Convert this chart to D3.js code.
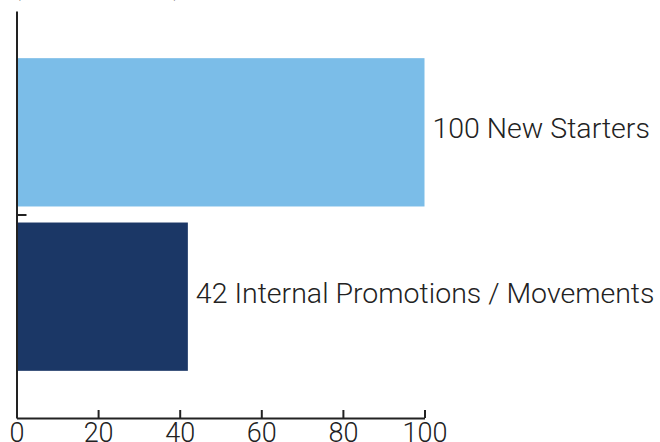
<!DOCTYPE html>
<html>
<head>
<meta charset="utf-8">
<script src="https://cdn.jsdelivr.net/npm/d3@7"></script>
<style>
  html, body { margin: 0; padding: 0; background: #fff; }
  svg { display: block; }
  text { font-family: Roboto, "Liberation Sans", sans-serif; }
</style>
</head>
<body>
<svg id="chart" width="660" height="442"></svg>
<script>
// Data
const categories = ["New Starters", "Internal Promotions / Movements"];
const values = [100, 42];
const barColors = ["#7bbde8", "#1b3766"];
const xTicks = [0, 20, 40, 60, 80, 100];
const title = "(in numbers)";

const svg = d3.select("#chart");
const margin = { left: 16.5, right: 235.5, top: 11, bottom: 24 };
const W = 660, H = 442;

const x = d3.scaleLinear().domain([0, 100]).range([margin.left, W - margin.right]);
const y = d3.scaleBand()
  .domain(categories)
  .range([margin.top, H - margin.bottom])
  .paddingInner(0.0976)
  .paddingOuter(0.287);

// Title (sits above the plotting area)
svg.append("text")
  .attr("x", 11)
  .attr("y", -6)
  .attr("font-size", 30)
  .attr("font-weight", 700)
  .attr("fill", "#222")
  .text(title);

// Bars
svg.append("g").selectAll("rect")
  .data(categories)
  .join("rect")
  .attr("x", x(0))
  .attr("y", d => y(d))
  .attr("width", (d, i) => x(values[i]) - x(0))
  .attr("height", y.bandwidth())
  .attr("fill", (d, i) => barColors[i]);

// Value + category labels
svg.append("g").selectAll("text")
  .data(categories)
  .join("text")
  .attr("x", (d, i) => x(values[i]) + 8)
  .attr("y", d => y(d) + y.bandwidth() / 2)
  .attr("dy", 6)
  .attr("font-size", 28.5)
  .attr("font-weight", 300)
  .attr("fill", "#222")
  .text((d, i) => `${values[i]} ${d}`);

// Y axis: boundary tick between the two categories
const yLin = d3.scaleLinear().domain([0, categories.length]).range([H - margin.bottom, margin.top]);
const yAxis = svg.append("g")
  .attr("transform", `translate(${x(0)},0)`)
  .call(d3.axisLeft(yLin).tickValues([1]).tickSize(-10).tickSizeOuter(0).tickFormat(""));
yAxis.selectAll("path, line").attr("stroke", "#222").attr("stroke-width", 2);

// X axis with inward ticks
const xAxis = svg.append("g")
  .attr("transform", `translate(0,${H - margin.bottom})`)
  .call(d3.axisBottom(x).tickValues(xTicks).tickSize(-8).tickSizeOuter(0).tickPadding(5));
xAxis.selectAll("path, line").attr("stroke", "#222").attr("stroke-width", 2);
xAxis.selectAll("text")
  .attr("font-size", 27)
  .attr("font-weight", 300)
  .attr("fill", "#222")
  .attr("font-family", "Roboto, 'Liberation Sans', sans-serif");
</script>
</body>
</html>
